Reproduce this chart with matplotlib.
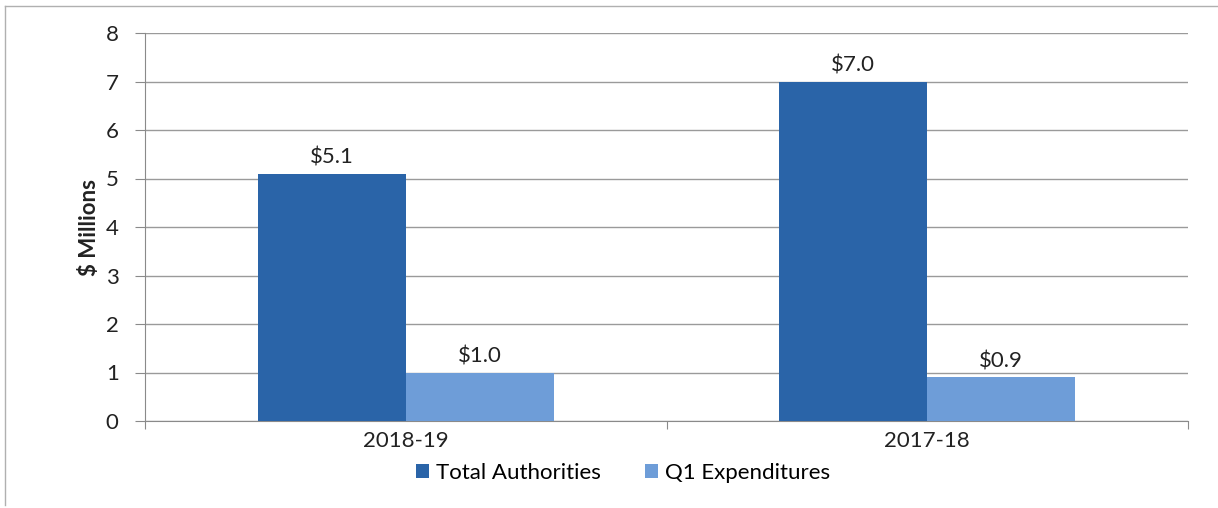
import matplotlib
matplotlib.use("Agg")
import matplotlib.pyplot as plt
from matplotlib.lines import Line2D
import numpy as np

categories = ["2018-19", "2017-18"]
series_names = ["Total Authorities", "Q1 Expenditures"]
total_authorities = [5.1, 7.0]
q1_expenditures = [1.0, 0.9]
yticks = [0, 1, 2, 3, 4, 5, 6, 7, 8]

plt.rcParams['font.family'] = ['Lato', 'DejaVu Sans']
FS = 16

fig = plt.figure(figsize=(12.18, 5.08), dpi=100)
ax = fig.add_axes([145/1218, 1 - 421/508, (1188-145)/1218, (421-33)/508])

x = np.arange(len(categories))
w = 0.284
c_dark = "#2A64A8"
c_light = "#6E9DD8"
b1 = ax.bar(x - w/2, total_authorities, w, color=c_dark, label=series_names[0], zorder=3)
b2 = ax.bar(x + w/2, q1_expenditures, w, color=c_light, label=series_names[1], zorder=3)

for bars, vals in ((b1, total_authorities), (b2, q1_expenditures)):
    for r, v in zip(bars, vals):
        ax.text(r.get_x() + r.get_width()/2, v + 0.12, f"${v:.1f}", ha="center", va="bottom",
                fontsize=FS, color="#222222")

ax.set_xlim(-0.5, 1.5)
ax.set_ylim(0, 8)
ax.set_yticks(yticks)
ax.set_yticklabels([str(t) for t in yticks], fontsize=FS, color="#222222")
ax.yaxis.grid(True, color="#9a9a9a", linewidth=1, zorder=0)
ax.set_axisbelow(True)

ax.set_xticks([-0.5, 0.5, 1.5], minor=False)
ax.set_xticklabels([])
ax.set_xticks(x, minor=True)
ax.set_xticklabels(categories, minor=True, fontsize=FS, color="#222222")
ax.tick_params(axis="x", which="minor", length=0, pad=7)
ax.tick_params(axis="x", which="major", length=6, color="#8a8a8a", direction="out")
ax.tick_params(axis="y", length=7, color="#8a8a8a", direction="out", pad=12)

for s in ["top", "right"]:
    ax.spines[s].set_visible(False)
ax.spines["left"].set_color("#8a8a8a")
ax.spines["bottom"].set_color("#8a8a8a")

ax.set_ylabel("$ Millions", fontsize=FS, fontweight="bold", labelpad=4, color="#222222")

leg = fig.legend(handles=[b1, b2], labels=series_names, loc="center", ncol=2,
                 bbox_to_anchor=(623/1218, 1 - 473/508), frameon=False, fontsize=FS,
                 handlelength=0.6, handleheight=0.6, handletextpad=0.3, columnspacing=2.0,
                 borderpad=0.1)

# outer frame (left and top edges visible)
fig.add_artist(Line2D([5/1218, 5/1218], [0.005, 1 - 6/508], transform=fig.transFigure,
                      color="#b0b0b0", linewidth=1))
fig.add_artist(Line2D([5/1218, 1.0], [1 - 6/508, 1 - 6/508], transform=fig.transFigure,
                      color="#b0b0b0", linewidth=1))

fig.savefig("out.png", dpi=100)
